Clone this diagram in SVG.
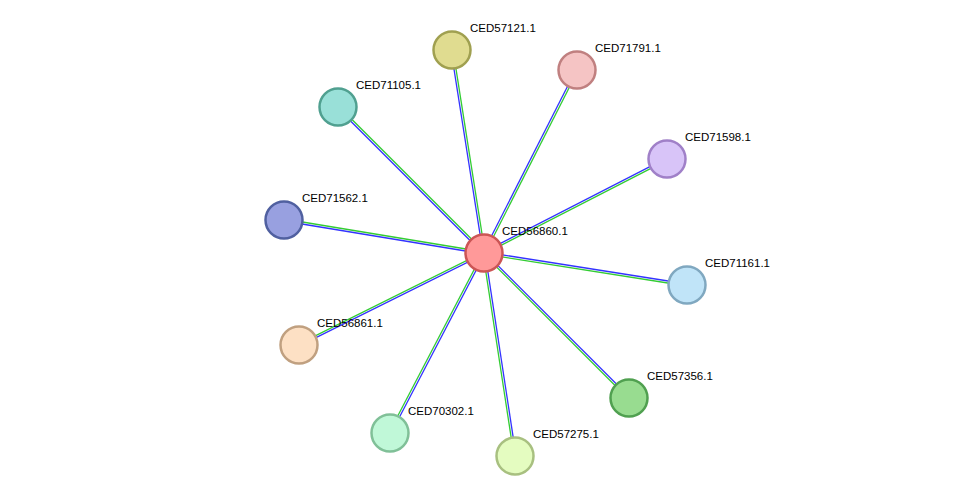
<svg xmlns="http://www.w3.org/2000/svg" width="975" height="501" viewBox="0 0 975 501">
<style>
.g{stroke:#33cc33;stroke-width:1.3}
.b{stroke:#3333ff;stroke-width:1.3}
circle{stroke-width:2.5}
text{font-family:"Liberation Sans",Arial,sans-serif;font-size:11.5px;fill:#000}
</style>
<rect width="975" height="501" fill="#fff"/>
<g id="connectors">
<line class="g" x1="485" y1="252.8" x2="453" y2="49.8"/><line class="b" x1="483" y1="253.2" x2="451" y2="50.2"/>
<line class="g" x1="484.9" y1="253.5" x2="577.9" y2="70.5"/><line class="b" x1="483.1" y1="252.5" x2="576.1" y2="69.5"/>
<line class="g" x1="484.7" y1="252.3" x2="338.7" y2="106.3"/><line class="b" x1="483.3" y1="253.7" x2="337.3" y2="107.7"/>
<line class="g" x1="484.5" y1="253.9" x2="667.5" y2="159.9"/><line class="b" x1="483.5" y1="252.1" x2="666.5" y2="158.1"/>
<line class="g" x1="484.2" y1="252" x2="284.2" y2="219"/><line class="b" x1="483.8" y1="254" x2="283.8" y2="221"/>
<line class="g" x1="483.8" y1="254" x2="686.8" y2="286"/><line class="b" x1="484.2" y1="252" x2="687.2" y2="284"/>
<line class="g" x1="483.6" y1="252.1" x2="298.6" y2="344.1"/><line class="b" x1="484.4" y1="253.9" x2="299.4" y2="345.9"/>
<line class="g" x1="483.3" y1="253.7" x2="628.3" y2="398.7"/><line class="b" x1="484.7" y1="252.3" x2="629.7" y2="397.3"/>
<line class="g" x1="483.1" y1="252.5" x2="389.1" y2="432.5"/><line class="b" x1="484.9" y1="253.5" x2="390.9" y2="433.5"/>
<line class="g" x1="483" y1="253.2" x2="514" y2="456.2"/><line class="b" x1="485" y1="252.8" x2="516" y2="455.8"/>
</g>
<g id="n1"><circle cx="452" cy="50" r="18.5" fill="#e0dc90" stroke="#a0a050"/><text x="470" y="32">CED57121.1</text></g>
<g id="n2"><circle cx="577" cy="70" r="18.5" fill="#f5c4c4" stroke="#c08080"/><text x="595" y="52">CED71791.1</text></g>
<g id="n3"><circle cx="338" cy="107" r="18.5" fill="#99e0d8" stroke="#50a090"/><text x="356" y="89">CED71105.1</text></g>
<g id="n4"><circle cx="667" cy="159" r="18.5" fill="#d8c4f8" stroke="#a080c8"/><text x="685" y="141">CED71598.1</text></g>
<g id="n5"><circle cx="284" cy="220" r="18.5" fill="#98a0e0" stroke="#5060a0"/><text x="302" y="202">CED71562.1</text></g>
<g id="n6"><circle cx="687" cy="285" r="18.5" fill="#c0e4f8" stroke="#80a8c0"/><text x="705" y="267">CED71161.1</text></g>
<g id="n7"><circle cx="299" cy="345" r="18.5" fill="#fde0c4" stroke="#c0a080"/><text x="317" y="327">CED56861.1</text></g>
<g id="n8"><circle cx="629" cy="398" r="18.5" fill="#98dc90" stroke="#50a050"/><text x="647" y="380">CED57356.1</text></g>
<g id="n9"><circle cx="390" cy="433" r="18.5" fill="#c0f8d8" stroke="#80c098"/><text x="408" y="415">CED70302.1</text></g>
<g id="n10"><circle cx="515" cy="456" r="18.5" fill="#e4fcc0" stroke="#a8c080"/><text x="533" y="438">CED57275.1</text></g>
<g id="n0"><circle cx="484" cy="253" r="18.5" fill="#ff9999" stroke="#cc5555"/><text x="502" y="235">CED56860.1</text></g>
</svg>
